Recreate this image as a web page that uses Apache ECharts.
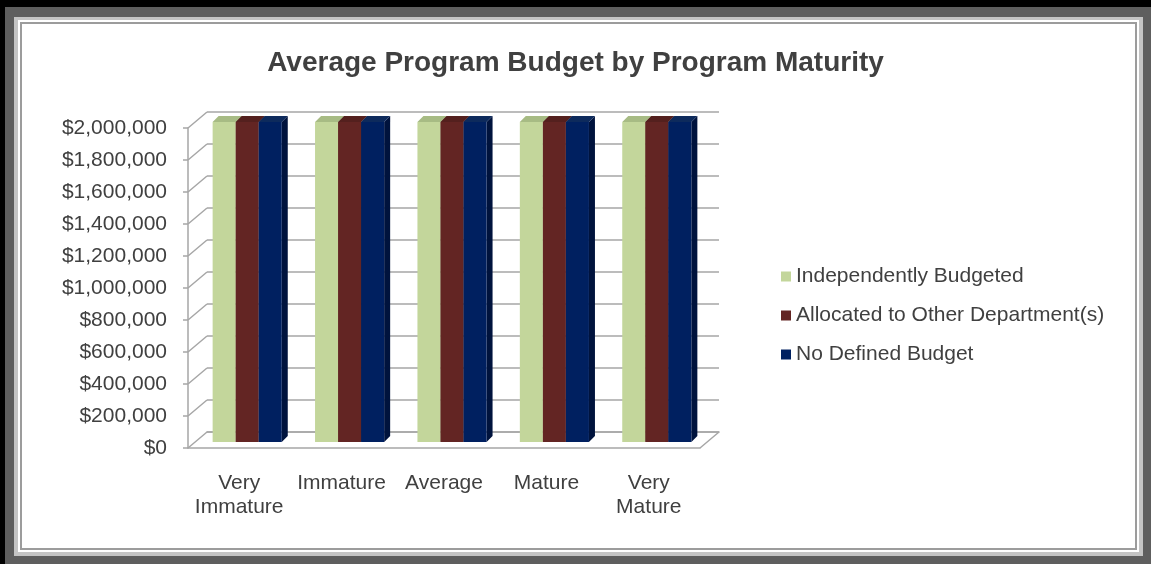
<!DOCTYPE html>
<html>
<head>
<meta charset="utf-8">
<script src="https://cdn.jsdelivr.net/npm/echarts@6/dist/echarts.min.js"></script>
<style>
  html, body { margin: 0; padding: 0; }
  body { width: 1151px; height: 564px; position: relative; overflow: hidden; background: #5e5e5e; }
  .shade { position: absolute; left: 0; top: 0; width: 1151px; height: 564px; box-sizing: border-box;
    border-top: 7px solid #000; border-left: 5px solid #000; }
  .band { position: absolute; left: 14px; top: 17px; right: 8px; bottom: 8px; background: #c4c4c4; }
  .paper { position: absolute; left: 4px; top: 3px; right: 4px; bottom: 4px; background: #fff; }
  .rule { position: absolute; left: 2px; top: 2px; right: 2px; bottom: 2px; border: 2px solid #9c9c9c; }
  #chart { position: absolute; left: 0; top: 0; width: 1151px; height: 564px; }
</style>
</head>
<body>
<div class="shade"></div>
<div class="band"><div class="paper"><div class="rule"></div></div></div>
<div id="chart"></div>
<script>
// 平均预算 × 成熟度:三组柱全部顶到 $2,000,000(原图就是这样)
const categories = ['Very\nImmature', 'Immature', 'Average', 'Mature', 'Very\nMature']
const seriesNames = ['Independently Budgeted', 'Allocated to Other Department(s)', 'No Defined Budget']
const independently = [2000000, 2000000, 2000000, 2000000, 2000000]
const allocated = [2000000, 2000000, 2000000, 2000000, 2000000]
const noBudget = [2000000, 2000000, 2000000, 2000000, 2000000]
const yTicks = [0, 200000, 400000, 600000, 800000, 1000000, 1200000, 1400000, 1600000, 1800000, 2000000]

const FONT = '"Liberation Sans", Arial, sans-serif'
const TXT = '#404040'
const GRID_LINE = '#a6a6a6'
const DEPTH = [19, -16]     // 后墙相对前轴的偏移
const BAR_SHIFT = [8, -6]   // 柱子放在中间深度
const BAR_DEPTH = [6, -6]   // 柱子自身厚度

// 正面 / 顶面 / 侧面 颜色
const faces = [
  { front: '#c3d69b', top: '#a7bb84', side: '#8fa26d' },
  { front: '#632523', top: '#54201e', side: '#3f1716' },
  { front: '#002060', top: '#0d2a5c', side: '#00133d' },
]

const fmt = (v) => '$' + v.toLocaleString('en-US')

function barSeries(name, data, idx) {
  const c = faces[idx]
  return {
    name, type: 'custom', xAxisIndex: 0, yAxisIndex: 0,
    itemStyle: { color: c.front },
    data: data.map((v, i) => [i, v]),
    renderItem: (params, api) => {
      const top = api.coord([api.value(0), api.value(1)])
      const base = api.coord([api.value(0), 0])
      const band = api.size([1, 0])[0]
      const bw = band * 0.225
      const x0 = top[0] - 1.5 * bw + idx * bw + BAR_SHIFT[0]
      const x1 = x0 + bw
      const yT = top[1] + BAR_SHIFT[1]
      const yB = base[1] + BAR_SHIFT[1]
      const dx = BAR_DEPTH[0], dy = BAR_DEPTH[1]
      return {
        type: 'group',
        children: [
          { type: 'polygon', shape: { points: [[x1, yT], [x1 + dx, yT + dy], [x1 + dx, yB + dy], [x1, yB]] },
            style: { fill: c.side } },
          { type: 'polygon', shape: { points: [[x0, yT], [x0 + dx, yT + dy], [x1 + dx, yT + dy], [x1, yT]] },
            style: { fill: c.top } },
          { type: 'rect', shape: { x: x0, y: yT, width: bw, height: yB - yT },
            style: { fill: c.front } },
        ],
      }
    },
  }
}

const chart = echarts.init(document.getElementById('chart'), null, { renderer: 'canvas' })
chart.setOption({
  backgroundColor: 'transparent',
  animation: false,
  textStyle: { fontFamily: FONT },
  title: {
    text: 'Average Program Budget by Program Maturity', left: 'center', top: 44,
    textStyle: { fontFamily: FONT, fontSize: 28, fontWeight: 'bold', color: TXT },
  },
  legend: {
    orient: 'vertical', left: 776, top: 261, icon: 'rect',
    itemWidth: 10, itemHeight: 10, itemGap: 18,
    data: seriesNames,
    textStyle: { fontFamily: FONT, fontSize: 21, color: TXT, padding: [0, 0, 0, 0] },
  },
  grid: [
    { left: 188, right: 451, top: 128, bottom: 116 },   // 前轴
    { left: 207, right: 432, top: 112, bottom: 132 },   // 后墙
  ],
  xAxis: [
    { type: 'category', gridIndex: 0, data: categories,
      axisLine: { lineStyle: { color: GRID_LINE, width: 1.5 } },
      axisTick: { length: 7, lineStyle: { color: GRID_LINE, width: 1.5 } },
      axisLabel: { margin: 23, fontSize: 21, lineHeight: 24, color: TXT, fontFamily: FONT, interval: 0 } },
    { type: 'category', gridIndex: 1, data: categories,
      axisLine: { lineStyle: { color: GRID_LINE, width: 1.5 } },
      axisTick: { show: false }, axisLabel: { show: false } },
  ],
  yAxis: [
    { type: 'value', gridIndex: 0, min: 0, max: 2000000, interval: 200000,
      axisLine: { show: true, lineStyle: { color: GRID_LINE, width: 1.5 } },
      axisTick: { show: true, length: 5, lineStyle: { color: GRID_LINE, width: 1.5 } },
      splitLine: { show: false },
      axisLabel: { margin: 21, fontSize: 21, color: TXT, fontFamily: FONT, formatter: fmt } },
    { type: 'value', gridIndex: 1, min: 0, max: 2000000, interval: 200000,
      axisLine: { show: false }, axisTick: { show: false }, axisLabel: { show: false },
      splitLine: { show: true, lineStyle: { color: GRID_LINE, width: 1.5 } } },
  ],
  series: [
    // 前轴刻度到后墙的斜线 + 地板右端斜线
    { type: 'custom', name: 'depth', xAxisIndex: 0, yAxisIndex: 0, silent: true, z: 1,
      data: yTicks.map((v) => [0, v]),
      renderItem: (params, api) => {
        const cs = params.coordSys
        const y = api.coord([0, api.value(1)])[1]
        const style = { stroke: GRID_LINE, lineWidth: 1.5 }
        const kids = [{ type: 'line', shape: { x1: cs.x, y1: y, x2: cs.x + DEPTH[0], y2: y + DEPTH[1] }, style }]
        if (api.value(1) === 0) {
          const xr = cs.x + cs.width
          kids.push({ type: 'line', shape: { x1: xr, y1: y, x2: xr + DEPTH[0], y2: y + DEPTH[1] }, style })
        }
        return { type: 'group', children: kids }
      } },
    barSeries(seriesNames[0], independently, 0),
    barSeries(seriesNames[1], allocated, 1),
    barSeries(seriesNames[2], noBudget, 2),
  ],
})
</script>
</body>
</html>
